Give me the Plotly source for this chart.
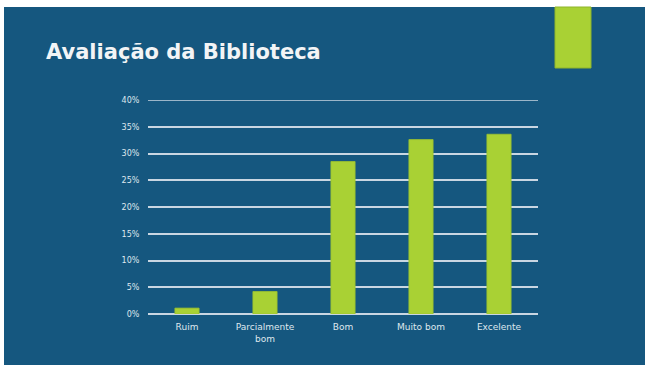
import plotly.graph_objects as go

categories = ["Ruim", "Parcialmente<br>bom", "Bom", "Muito bom", "Excelente"]
percentages = [1.1, 4.2, 28.5, 32.6, 33.6]
tick_values = [0, 5, 10, 15, 20, 25, 30, 35, 40]
tick_labels = [f"{v}%" for v in tick_values]

W, H = 645, 365
L, R, T, B = 148, 107, 100, 51
PW, PH = W - L - R, H - T - B
BG = "#15577f"
GREEN = "#a9d134"
TEXT = "#dfe7ee"
GRID = "#c9d6e2"


def px_x(p):
    return (p - L) / PW


def px_y(p):
    return (H - B - p) / PH


fig = go.Figure(
    go.Bar(
        x=categories,
        y=percentages,
        marker=dict(color=GREEN, line=dict(color="#9cc22e", width=0.8)),
        hoverinfo="skip",
    )
)

# slide background (thin white edge on top/left)
fig.add_shape(type="rect", xref="paper", yref="paper",
              x0=px_x(4), x1=px_x(W + 5), y0=px_y(H + 5), y1=px_y(7),
              fillcolor=BG, line=dict(width=0), layer="below")

# green accent block at the top right
fig.add_shape(type="rect", xref="paper", yref="paper",
              x0=px_x(555), x1=px_x(591), y0=px_y(68), y1=px_y(7),
              fillcolor=GREEN, line=dict(color="#8fb52a", width=1))

# top gridline at 40%
fig.add_shape(type="line", xref="paper", yref="y", x0=0, x1=1, y0=40, y1=40,
              line=dict(color=GRID, width=1.5))

fig.add_annotation(text="Avaliação da Biblioteca", xref="paper", yref="paper",
                   x=px_x(44), y=px_y(52), xanchor="left", yanchor="middle",
                   showarrow=False,
                   font=dict(family="DejaVu Sans", size=21, color="#f2f4f6", weight="bold"))

fig.update_layout(
    width=W, height=H,
    margin=dict(l=L, r=R, t=T, b=B),
    paper_bgcolor="white",
    plot_bgcolor="rgba(0,0,0,0)",
    bargap=0.69,
    showlegend=False,
    xaxis=dict(showgrid=False, showline=False, zeroline=False,
               tickfont=dict(family="DejaVu Sans", size=9, color=TEXT),
               ticks="outside", ticklen=4, tickcolor="rgba(0,0,0,0)"),
    yaxis=dict(range=[0, 40], tickvals=tick_values, ticktext=tick_labels,
               showgrid=True, gridcolor=GRID, gridwidth=1.5,
               zeroline=True, zerolinecolor=GRID, zerolinewidth=1.5,
               tickfont=dict(family="DejaVu Sans", size=8, color=TEXT),
               ticks="outside", ticklen=6, tickcolor="rgba(0,0,0,0)"),
)

fig.write_html("out.html")
